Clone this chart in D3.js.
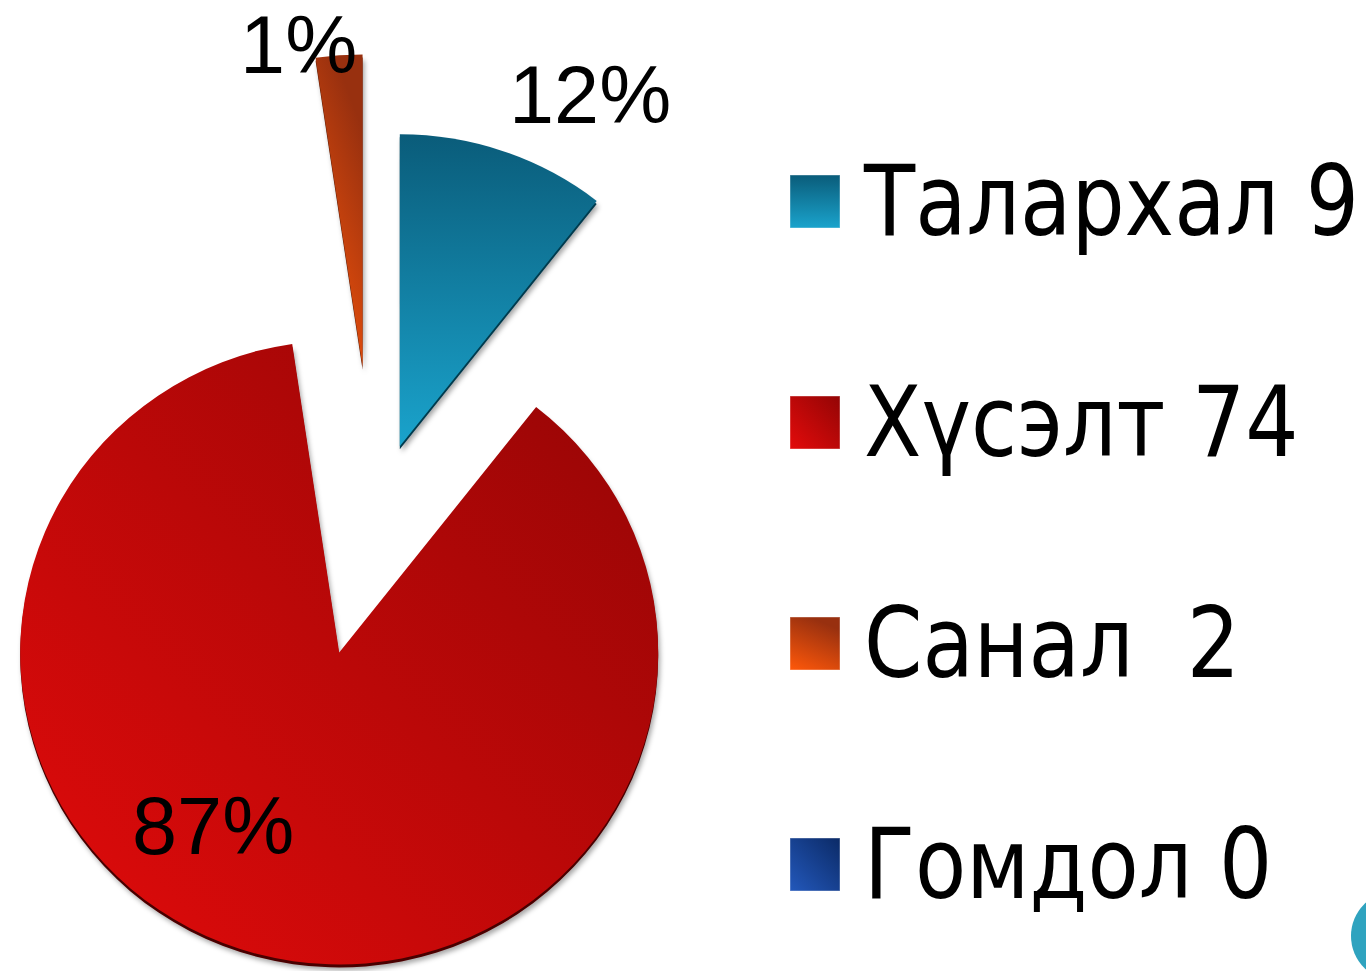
<!DOCTYPE html>
<html>
<head>
<meta charset="utf-8">
<script src="https://cdn.jsdelivr.net/npm/d3@7"></script>
<style>
  body { margin: 0; background: #fff; }
  svg { display: block; }
</style>
</head>
<body>
<svg id="chart"></svg>
<script>
// data
const categories = ["Талархал", "Хүсэлт", "Санал", "Гомдол"];
const values = [9, 74, 2, 0];
const legendLabels = ["Талархал 9", "Хүсэлт 74", "Санал  2", "Гомдол 0"];
const percentLabels = ["12%", "87%", "1%", ""];

const width = 1366, height = 971;
const center = { x: 374, y: 521 };
const radius = 319;
const squash = 0.978;                          // slight tilt of the pie
const explode = [79, 136, 155, 0];           // how far each slice is pulled out
const labelPlace = [[30.5, 375], [212, 238], [-12.3, 300], [0, 0]]; // [angle deg, distance] from slice tip

const palette = [
  { id: "g0", a: "#1aa3cc", b: "#0a5c7a", side: "#063a4e", dir: [0, 1, 0, 0] },
  { id: "g1", a: "#e30b0b", b: "#930505", side: "#4a0202", dir: [0, 1, 1, 0] },
  { id: "g2", a: "#ff580a", b: "#98300f", side: "#5a1a05", dir: [0, 1, 0.4, 0] },
  { id: "g3", a: "#2358bb", b: "#0b2a66", side: "#061a40", dir: [0, 1, 1, 0] }
];

const svg = d3.select("#chart")
  .attr("width", width)
  .attr("height", height);

const defs = svg.append("defs");

palette.forEach(p => {
  const g = defs.append("linearGradient")
    .attr("id", p.id)
    .attr("x1", p.dir[0]).attr("y1", p.dir[1])
    .attr("x2", p.dir[2]).attr("y2", p.dir[3]);
  g.append("stop").attr("offset", 0).attr("stop-color", p.a);
  g.append("stop").attr("offset", 1).attr("stop-color", p.b);
});

const shadow = defs.append("filter")
  .attr("id", "shadow")
  .attr("x", "-20%").attr("y", "-20%")
  .attr("width", "140%").attr("height", "140%");
shadow.append("feDropShadow")
  .attr("dx", 2).attr("dy", 3)
  .attr("stdDeviation", 2.5)
  .attr("flood-color", "#000")
  .attr("flood-opacity", 0.35);

const pie = d3.pie().sort(null).value(d => d)(values);
const arc = d3.arc().innerRadius(0).outerRadius(radius);

const mid = d => (d.startAngle + d.endAngle) / 2;

const slices = svg.append("g")
  .attr("transform", `translate(${center.x},${center.y})`)
  .selectAll("g.slice")
  .data(pie.filter(d => d.value > 0))
  .join("g")
  .attr("class", "slice")
  .attr("transform", d => {
    const k = explode[d.index];
    return `translate(${Math.sin(mid(d)) * k},${-Math.cos(mid(d)) * k})`;
  });

// thin dark side to fake the 3D thickness
slices.append("path")
  .attr("d", arc)
  .attr("transform", `translate(0,3) scale(1,${squash})`)
  .attr("fill", d => palette[d.index].side)
  .attr("filter", "url(#shadow)");

slices.append("path")
  .attr("d", arc)
  .attr("transform", `scale(1,${squash})`)
  .attr("fill", d => `url(#${palette[d.index].id})`);

// percentage labels
slices.append("text")
  .attr("x", d => Math.sin(labelPlace[d.index][0] * Math.PI / 180) * labelPlace[d.index][1])
  .attr("y", d => -Math.cos(labelPlace[d.index][0] * Math.PI / 180) * labelPlace[d.index][1])
  .attr("text-anchor", "middle")
  .attr("font-family", "'Liberation Sans', Arial, sans-serif")
  .attr("font-size", 81)
  .attr("fill", "#000")
  .text(d => percentLabels[d.index]);

// legend
const legendY = d3.scalePoint()
  .domain(categories)
  .range([235, 898]);

const legend = svg.append("g")
  .selectAll("g.item")
  .data(categories)
  .join("g")
  .attr("class", "item")
  .attr("transform", d => `translate(790,${legendY(d)})`);

legend.append("rect")
  .attr("x", 0)
  .attr("y", -60)
  .attr("width", 50)
  .attr("height", 53)
  .attr("fill", (d, i) => `url(#${palette[i].id})`)
  .attr("stroke", "#ffffff")
  .attr("stroke-opacity", 0.4);

legend.append("text")
  .attr("transform", "translate(74,0) scale(0.855,1)")
  .attr("font-family", "'DejaVu Sans', Verdana, sans-serif")
  .attr("font-size", 98)
  .attr("fill", "#000")
  .style("white-space", "pre")
  .text((d, i) => legendLabels[i]);

// slide decoration peeking in at the corner
svg.append("circle")
  .attr("cx", 1396)
  .attr("cy", 936)
  .attr("r", 45)
  .attr("fill", "#2fa3bf");
</script>
</body>
</html>
